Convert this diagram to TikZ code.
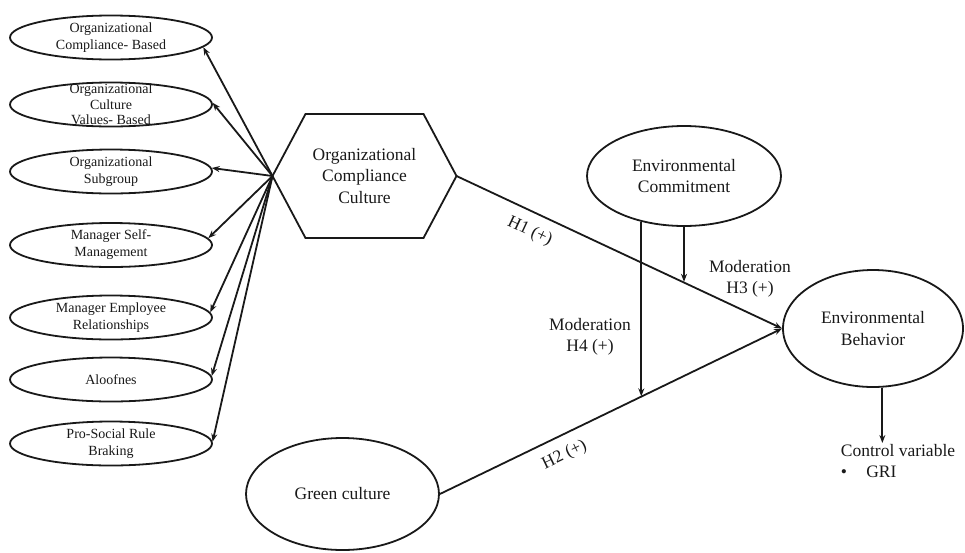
\documentclass[tikz,border=0pt]{standalone}
\usepackage{fontspec}
\setmainfont{Liberation Serif}
\usetikzlibrary{arrows.meta, calc, shapes.geometric}

\begin{document}
\begin{tikzpicture}[x=1pt, y=-1pt, >={Stealth[length=8pt, width=6pt]}, line width=1.8pt, color=black!90,
  every node/.style={font=\fontsize{17.5}{21.5}\selectfont, align=center},
  dim/.style={ellipse, draw, inner sep=0pt, minimum width=202pt, minimum height=44pt, font=\fontsize{14}{17}\selectfont},
  construct/.style={ellipse, draw, inner sep=0pt}]
  \useasboundingbox (0,0) rectangle (965,552);
  \node[dim] (e1) at (111,37.5) {Organizational\\Compliance- Based};
  \node[dim, label={[font=\fontsize{14}{15.5}\selectfont]center:{Organizational\\Culture\\Values- Based}}] (e2) at (111,104.5) {};
  \node[dim] (e3) at (111,171.5) {Organizational\\Subgroup};
  \node[dim] (e4) at (111,245) {Manager Self-\\Management};
  \node[dim] (e5) at (111,317.5) {Manager Employee\\Relationships};
  \node[dim] (e6) at (111,379.5) {Aloofnes};
  \node[dim] (e7) at (111,443.5) {Pro-Social Rule\\Braking};
  \node[minimum width=184pt, minimum height=124pt, inner sep=0pt, outer sep=0pt] (occ) at (364.5,176) {Organizational\\Compliance\\Culture};
  \draw (occ.west) -- ($(occ.north west)+(33,0)$) -- ($(occ.north east)+(-33,0)$) -- (occ.east) -- ($(occ.south east)+(-33,0)$) -- ($(occ.south west)+(33,0)$) -- cycle;
  \node[construct, minimum width=194pt, minimum height=100pt] (ec) at (684,176) {Environmental\\Commitment};
  \node[construct, minimum width=180pt, minimum height=117pt] (eb) at (873,328.5) {Environmental\\Behavior};
  \node[construct, minimum width=193pt, minimum height=112pt] (gc) at (342.5,494) {Green culture};
  \node[align=left, anchor=north west, inner sep=0pt] (ctrl) at (840,443) {Control variable\\\textbullet\hspace{1.1em}GRI};
  \foreach \sub/\ang in {e1/-6, e2/1, e3/2, e4/4, e5/3, e6/2, e7/1}
    \draw[->] (occ.west) -- (\sub.\ang);
  \draw[->] (occ.east) -- (eb.west) coordinate[pos=0.694] (m3) node[pos=0.25, below=7pt, sloped] (h1) {H1 (+)};
  \draw[->] (gc.east) -- (eb.west) coordinate[pos=0.59] (m4) node[pos=0.34, below=7pt, sloped] (h2) {H2 (+)};
  \draw[->] (ec.south) -- (ec.south |- m3);
  \draw[->] (ec.-133) -- (ec.-133 |- m4);
  \node (mod3) at (750,279) {Moderation\\H3 (+)};
  \node (mod4) at (590,337) {Moderation\\H4 (+)};
  \draw[->] (eb.-81) -- (eb.-81 |- ctrl.north);
\end{tikzpicture}
\end{document}
